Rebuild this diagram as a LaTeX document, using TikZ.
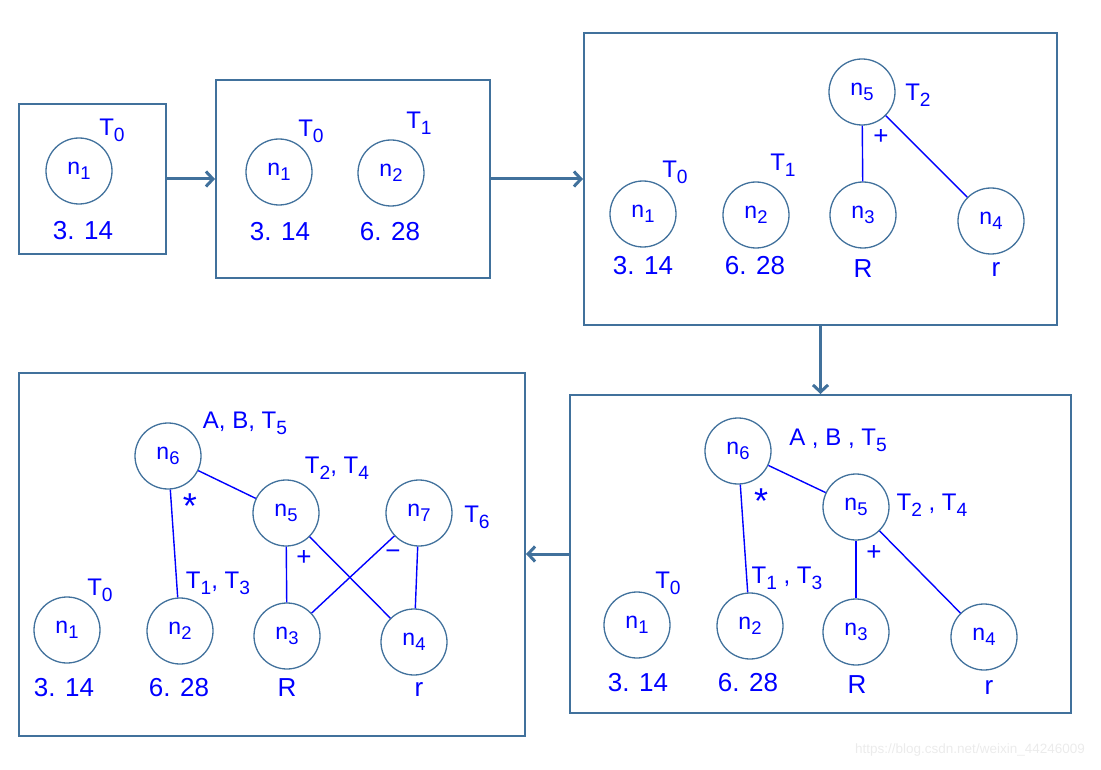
\documentclass[tikz,border=0pt]{standalone}
\usepackage{fontspec}
\setmainfont{Liberation Sans}
\usetikzlibrary{arrows.meta}
\definecolor{frameblue}{RGB}{65,113,156}
\definecolor{inkblue}{RGB}{0,0,255}
\newcommand{\idx}[1]{\raisebox{-0.45ex}{\scalebox{0.8}{#1}}}

\begin{document}
\begin{tikzpicture}[x=1pt,y=-1pt,inner sep=0pt,
  frame/.style={draw=frameblue,line width=2pt},
  vert/.style={circle,draw=frameblue,line width=1.3pt,minimum size=66pt,text=inkblue,font=\fontsize{23}{23}\selectfont},
  tag/.style={text=inkblue,font=\fontsize{24}{24}\selectfont},
  val/.style={text=inkblue,font=\fontsize{26}{26}\selectfont},
  op/.style={text=inkblue,font=\fontsize{26}{26}\selectfont},
  star/.style={text=inkblue,font=\fontsize{36}{36}\selectfont},
  edge/.style={draw=inkblue,line width=1.4pt},
  flow/.style={draw=frameblue,line width=3pt,-{Straight Barb[length=7pt,width=15pt]}}]

\useasboundingbox (0,0) rectangle (1101,770);

\node[frame,minimum width=147pt,minimum height=150pt] (box1) at (92.5,179) {};
\node[frame,minimum width=274pt,minimum height=198pt] (box2) at (353,179) {};
\node[frame,minimum width=473pt,minimum height=292pt] (box3) at (820.5,179) {};
\node[frame,minimum width=501pt,minimum height=318pt] (box4) at (820.5,554) {};
\node[frame,minimum width=506pt,minimum height=363pt] (box5) at (272,554) {};

\draw[flow] (box1) -- (box2);
\draw[flow] (box2) -- (box3);
\draw[flow] (box3) -- (box4);
\draw[flow] (box4) -- (box5);

% first box
\node[vert] (a1) at (79,171) {n\idx{1}};
\node[tag] (a1t) at (112,130) {T\idx{0}};
\node[val] (a1v) at (83,231) {3. 14};

% second box
\node[vert] (b1) at (279,172) {n\idx{1}};
\node[tag] (b1t) at (311,131) {T\idx{0}};
\node[val] (b1v) at (280,232) {3. 14};
\node[vert] (b2) at (391,173) {n\idx{2}};
\node[tag] (b2t) at (419,123) {T\idx{1}};
\node[val] (b2v) at (390,232) {6. 28};

% third box
\node[vert] (c1) at (643,214) {n\idx{1}};
\node[tag] (c1t) at (675,172) {T\idx{0}};
\node[val] (c1v) at (643,266) {3. 14};
\node[vert] (c2) at (756,215) {n\idx{2}};
\node[tag] (c2t) at (783,165) {T\idx{1}};
\node[val] (c2v) at (755,266) {6. 28};
\node[vert] (c3) at (863,215) {n\idx{3}};
\node[val] (c3v) at (863,269) {R};
\node[vert] (c4) at (991,221) {n\idx{4}};
\node[val] (c4v) at (996,270) {r};
\node[vert] (c5) at (862,92) {n\idx{5}};
\node[tag] (c5t) at (918,95) {T\idx{2}};
\node[op] (c5o) at (881,137) {+};

\draw[edge] (c5) -- (c3);
\draw[edge] (c5) -- (c4);

% fourth box
\node[vert] (d1) at (637,625) {n\idx{1}};
\node[tag] (d1t) at (668,583) {T\idx{0}};
\node[val] (d1v) at (638,683) {3. 14};
\node[vert] (d2) at (750,626) {n\idx{2}};
\node[tag] (d2t) at (787,578) {T\idx{1} , T\idx{3}};
\node[val] (d2v) at (748,683) {6. 28};
\node[vert] (d3) at (856,632) {n\idx{3}};
\node[val] (d3v) at (857,685) {R};
\node[vert] (d4) at (984,637) {n\idx{4}};
\node[val] (d4v) at (989,688) {r};
\node[vert] (d5) at (856,507) {n\idx{5}};
\node[tag] (d5t) at (932,505) {T\idx{2} , T\idx{4}};
\node[op] (d5o) at (874,553) {+};
\node[vert] (d6) at (738,451) {n\idx{6}};
\node[tag] (d6t) at (838,440) {A , B , T\idx{5}};
\node[star] (d6o) at (761,501) {*};

\draw[edge] (d6) -- (d2);
\draw[edge] (d6) -- (d5);
\draw[edge] (d5) -- (d3);
\draw[edge] (d5) -- (d4);

% fifth box
\node[vert] (e1) at (67,630) {n\idx{1}};
\node[tag] (e1t) at (100,590) {T\idx{0}};
\node[val] (e1v) at (64,688) {3. 14};
\node[vert] (e2) at (180,631) {n\idx{2}};
\node[tag] (e2t) at (218,583) {T\idx{1}, T\idx{3}};
\node[val] (e2v) at (179,688) {6. 28};
\node[vert] (e3) at (287,636) {n\idx{3}};
\node[val] (e3v) at (287,688) {R};
\node[vert] (e4) at (414,642) {n\idx{4}};
\node[val] (e4v) at (419,690) {r};
\node[vert] (e5) at (286,513) {n\idx{5}};
\node[tag] (e5t) at (337,468) {T\idx{2}, T\idx{4}};
\node[op] (e5o) at (304,558) {+};
\node[vert] (e6) at (168,456) {n\idx{6}};
\node[tag] (e6t) at (245,423) {A, B, T\idx{5}};
\node[star] (e6o) at (190,506) {*};
\node[vert] (e7) at (419,513) {n\idx{7}};
\node[tag] (e7t) at (477,517) {T\idx{6}};
\node[op] (e7o) at (393,555) {−};

\draw[edge] (e6) -- (e2);
\draw[edge] (e6) -- (e5);
\draw[edge] (e5) -- (e3);
\draw[edge] (e5) -- (e4);
\draw[edge] (e7) -- (e3);
\draw[edge] (e7) -- (e4);

\node[text=black!8,font=\fontsize{13.5}{14}\selectfont] (mark) at (970,750) {https://blog.csdn.net/weixin\_44246009};

\end{tikzpicture}
\end{document}
